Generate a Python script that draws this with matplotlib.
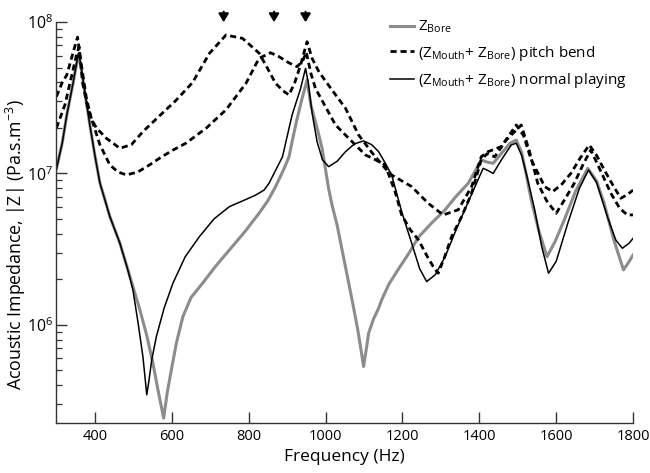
import numpy as np
import matplotlib
matplotlib.use('Agg')
import matplotlib.pyplot as plt
from matplotlib.ticker import LogLocator, LogFormatterMathtext

plt.rcParams['font.family'] = ['Open Sans', 'DejaVu Sans']
plt.rcParams['mathtext.fontset'] = 'custom'
plt.rcParams['mathtext.rm'] = 'Open Sans'
plt.rcParams['mathtext.it'] = 'Open Sans:italic'
plt.rcParams['mathtext.bf'] = 'Open Sans:bold'

# values: frequency (Hz) and log10 |Z|
f_normal = [300, 315, 327, 344, 352, 357, 362, 370, 387, 400, 413, 439, 465, 485, 499, 512, 525, 531, 535,
            540, 548, 560, 580, 603, 635, 672, 710, 750, 790, 819, 840, 853, 870, 888, 913, 935, 948, 955,
            965, 978, 992, 1008, 1030, 1052, 1075, 1099, 1120, 1138, 1155, 1172, 1198, 1224, 1245, 1263,
            1285, 1311, 1335, 1362, 1390, 1410, 1422, 1436, 1460, 1483, 1496, 1510, 1525, 1544, 1562, 1580,
            1600, 1630, 1660, 1684, 1705, 1733, 1755, 1772, 1790, 1800]
z_normal = [7.03, 7.20, 7.386, 7.606, 7.72, 7.793, 7.74, 7.606, 7.32, 7.12, 6.937, 6.715, 6.54, 6.37, 6.231,
            6.02, 5.79, 5.64, 5.538, 5.62, 5.77, 5.923, 6.11, 6.275, 6.45, 6.583, 6.70, 6.781, 6.825, 6.858,
            6.89, 6.935, 7.02, 7.11, 7.386, 7.56, 7.694, 7.60, 7.40, 7.21, 7.09, 7.045, 7.08, 7.144, 7.195,
            7.215, 7.19, 7.144, 7.07, 6.99, 6.748, 6.54, 6.37, 6.286, 6.33, 6.45, 6.60, 6.76, 6.92, 7.034,
            7.02, 7.0, 7.10, 7.188, 7.20, 7.12, 6.97, 6.76, 6.52, 6.341, 6.42, 6.67, 6.90, 7.023, 6.94,
            6.715, 6.56, 6.506, 6.54, 6.572]

f_bore = [300, 315, 327, 344, 352, 357, 362, 370, 387, 400, 413, 439, 465, 490, 517, 535, 551, 565, 579,
          588, 599, 612, 629, 650, 680, 715, 750, 790, 827, 850, 870, 890, 905, 913, 925, 939, 952, 962,
          978, 991, 1008, 1017, 1030, 1043, 1056, 1069, 1083, 1092, 1099, 1106, 1112, 1125, 1138, 1146,
          1165, 1190, 1216, 1242, 1275, 1311, 1340, 1371, 1390, 1405, 1420, 1436, 1460, 1480, 1496, 1510,
          1520, 1535, 1555, 1576, 1597, 1621, 1650, 1682, 1705, 1725, 1750, 1775, 1790, 1800]
z_bore = [7.03, 7.20, 7.386, 7.606, 7.72, 7.78, 7.73, 7.60, 7.32, 7.12, 6.94, 6.715, 6.54, 6.33, 6.10, 5.93,
          5.747, 5.56, 5.384, 5.55, 5.703, 5.88, 6.055, 6.18, 6.275, 6.39, 6.495, 6.615, 6.737, 6.82, 6.913,
          7.02, 7.11, 7.21, 7.35, 7.496, 7.617, 7.45, 7.30, 7.166, 6.90, 6.79, 6.66, 6.495, 6.33, 6.165,
          5.98, 5.84, 5.725, 5.84, 5.945, 6.04, 6.11, 6.165, 6.27, 6.37, 6.47, 6.58, 6.67, 6.76, 6.85, 6.935,
          7.02, 7.09, 7.075, 7.067, 7.14, 7.20, 7.22, 7.14, 7.02, 6.825, 6.62, 6.45, 6.55, 6.693, 6.88,
          7.034, 6.95, 6.80, 6.56, 6.363, 6.42, 6.462]

f_bend1 = [300, 315, 327, 344, 355, 363, 378, 391, 404, 430, 465, 495, 525, 568, 610, 654, 698, 741, 784,
           827, 850, 870, 890, 905, 920, 935, 952, 965, 983, 1020, 1052, 1086, 1120, 1155, 1172, 1224, 1267,
           1306, 1345, 1380, 1405, 1423, 1457, 1496, 1515, 1535, 1570, 1591, 1615, 1638, 1662, 1686, 1705,
           1725, 1748, 1768, 1785, 1800]
z_bend1 = [7.507, 7.60, 7.65, 7.804, 7.90, 7.75, 7.496, 7.36, 7.30, 7.232, 7.166, 7.19, 7.276, 7.38, 7.48,
           7.60, 7.793, 7.914, 7.892, 7.795, 7.69, 7.595, 7.545, 7.518, 7.60, 7.716, 7.87, 7.76, 7.67, 7.54,
           7.43, 7.254, 7.14, 7.034, 6.99, 6.913, 6.803, 6.726, 6.76, 6.913, 7.11, 7.144, 7.177, 7.32, 7.25,
           7.09, 6.913, 6.88, 6.93, 7.0, 7.10, 7.188, 7.12, 7.023, 6.92, 6.836, 6.86, 6.89]

f_bend2 = [300, 322, 340, 352, 359, 368, 380, 391, 413, 439, 460, 482, 512, 542, 568, 600, 637, 690, 741,
           793, 827, 857, 879, 905, 926, 940, 950, 962, 974, 1000, 1026, 1065, 1104, 1130, 1155, 1181, 1198,
           1220, 1242, 1265, 1280, 1293, 1310, 1328, 1355, 1380, 1405, 1420, 1440, 1470, 1509, 1530, 1552,
           1575, 1600, 1625, 1647, 1670, 1690, 1715, 1742, 1765, 1785, 1800]
z_bend2 = [7.30, 7.452, 7.65, 7.78, 7.837, 7.60, 7.45, 7.364, 7.19, 7.056, 7.01, 6.99, 7.01, 7.056, 7.10,
           7.15, 7.20, 7.30, 7.42, 7.595, 7.76, 7.797, 7.771, 7.73, 7.705, 7.74, 7.80, 7.66, 7.56, 7.44,
           7.32, 7.22, 7.122, 7.09, 7.056, 6.88, 6.726, 6.63, 6.56, 6.45, 6.385, 6.341, 6.45, 6.583, 6.72,
           6.87, 7.09, 7.13, 7.11, 7.22, 7.32, 7.15, 6.935, 6.82, 6.737, 6.84, 6.935, 7.06, 7.155, 7.02,
           6.87, 6.77, 6.726, 6.726]

arrow_f = [735, 866, 948]

fig = plt.figure(figsize=(6.5, 4.73), dpi=100)
ax = fig.add_axes([0.0868, 0.1057, 0.974 - 0.0868, 0.9535 - 0.1057])

dash = (2.2, 1.4)
ax.plot(f_bore, 10 ** np.array(z_bore), color='#8c8c8c', lw=2.2, label=r'Z$_{\rm Bore}$')
ax.plot(f_bend1, 10 ** np.array(z_bend1), color='black', lw=2.0, dashes=dash,
        label=r'(Z$_{\rm Mouth}$+ Z$_{\rm Bore}$) pitch bend')
ax.plot(f_bend2, 10 ** np.array(z_bend2), color='black', lw=2.0, dashes=dash)
ax.plot(f_normal, 10 ** np.array(z_normal), color='black', lw=1.1,
        label=r'(Z$_{\rm Mouth}$+ Z$_{\rm Bore}$) normal playing')

for fa in arrow_f:
    ax.annotate('', xy=(fa, 0.955e8), xytext=(fa, 1.22e8), annotation_clip=False,
                arrowprops=dict(arrowstyle='-|>,head_length=0.5,head_width=0.3', color='black', lw=1.5))

ax.set_yscale('log')
ax.set_xlim(300, 1800)
ax.set_ylim(2.25e5, 1.0e8)
ax.set_xticks(range(400, 1801, 200))
ax.yaxis.set_major_locator(LogLocator(base=10))
ax.yaxis.set_minor_locator(LogLocator(base=10, subs=np.arange(2, 10)))
ax.yaxis.set_major_formatter(LogFormatterMathtext())

for s in ['top', 'right']:
    ax.spines[s].set_visible(False)
for s in ['left', 'bottom']:
    ax.spines[s].set_color('#333333')
    ax.spines[s].set_linewidth(1.0)

ax.tick_params(axis='both', which='major', direction='in', length=8, width=1, color='#333333',
               labelsize=11.5, pad=4)
ax.tick_params(axis='x', which='major', labelsize=10.5)
ax.tick_params(axis='y', which='minor', direction='in', length=4.5, width=0.9, color='#333333')
ax.tick_params(axis='x', which='minor', bottom=False)
ax.tick_params(axis='y', which='major', pad=2)

ax.set_xlabel('Frequency (Hz)', fontsize=12.5, labelpad=4)
ax.set_ylabel(r'Acoustic Impedance, |Z| (Pa.s.m$^{-3}$)', fontsize=12.8)
ax.yaxis.set_label_coords(-0.05, 0.445)

ax.legend(loc='upper left', bbox_to_anchor=(390 / 650, 1 - 19 / 473), bbox_transform=fig.transFigure,
          frameon=False, fontsize=11, handlelength=1.6, handletextpad=0.2, labelspacing=0.55,
          borderpad=0, borderaxespad=0)

fig.savefig('out.png', dpi=100)
